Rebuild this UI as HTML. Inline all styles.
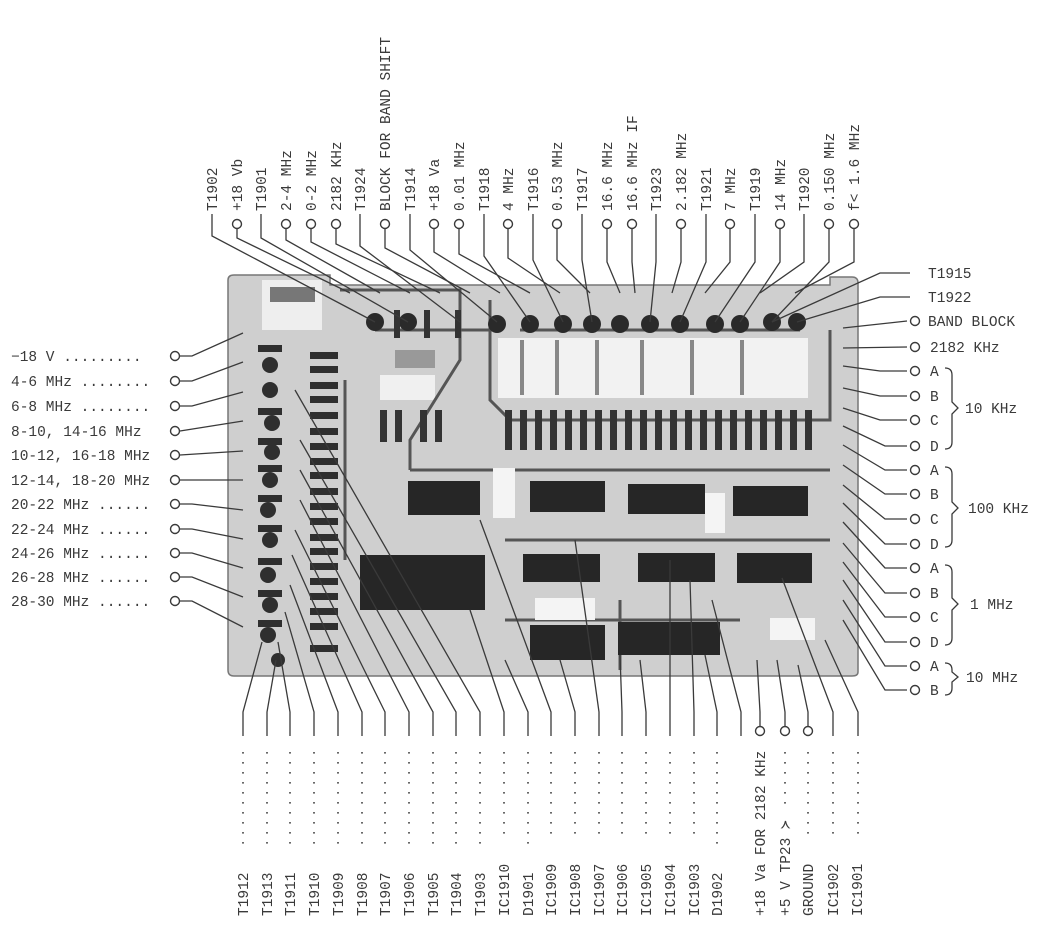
<!DOCTYPE html>
<html><head><meta charset="utf-8"><style>
html,body{margin:0;padding:0;background:#fff;}
svg{display:block;}
text{font-family:"Liberation Mono",monospace;font-size:14.5px;fill:#3a3a3a;}
</style></head><body>
<svg width="1037" height="931" viewBox="0 0 1037 931" xmlns="http://www.w3.org/2000/svg">
<g>
<path d="M228,280 Q228,275 234,275 L330,275 L330,285 L830,285 L830,277 L852,277 Q858,277 858,283 L858,672 Q858,676 852,676 L234,676 Q228,676 228,670 Z" fill="#cfcfcf" stroke="#777" stroke-width="1.5"/>
<rect x="262" y="280" width="60" height="50" fill="#eee"/>
<rect x="270" y="287" width="45" height="15" fill="#777"/>
<rect x="498" y="338" width="310" height="60" fill="#f2f2f2"/>
<g fill="#888"><rect x="520" y="340" width="4" height="55"/><rect x="555" y="340" width="4" height="55"/><rect x="595" y="340" width="4" height="55"/><rect x="640" y="340" width="4" height="55"/><rect x="690" y="340" width="4" height="55"/><rect x="740" y="340" width="4" height="55"/></g>
<rect x="380" y="375" width="55" height="25" fill="#f0f0f0"/>
<rect x="395" y="350" width="40" height="18" fill="#999"/>
<g stroke="#555" stroke-width="3" fill="none">
<path d="M490,300 L490,400 L510,420 L830,420 L830,330"/>
<path d="M410,470 L830,470"/>
<path d="M340,290 L460,290 L460,360 L410,440 L410,470"/>
<path d="M505,540 L830,540"/>
<path d="M505,620 L740,620"/>
<path d="M620,600 L620,670"/>
<path d="M345,380 L345,560"/>
<path d="M375,330 L500,330"/>
<path d="M520,330 L800,330"/>
</g>
<g fill="#2a2a2a">
<circle cx="375" cy="322" r="9"/><circle cx="408" cy="322" r="9"/><circle cx="497" cy="324" r="9"/><circle cx="530" cy="324" r="9"/><circle cx="563" cy="324" r="9"/><circle cx="592" cy="324" r="9"/><circle cx="620" cy="324" r="9"/><circle cx="650" cy="324" r="9"/><circle cx="680" cy="324" r="9"/><circle cx="715" cy="324" r="9"/><circle cx="740" cy="324" r="9"/><circle cx="772" cy="322" r="9"/><circle cx="797" cy="322" r="9"/>
</g>
<g fill="#333">
<rect x="505" y="410" width="7" height="40"/><rect x="520" y="410" width="7" height="40"/><rect x="535" y="410" width="7" height="40"/><rect x="550" y="410" width="7" height="40"/><rect x="565" y="410" width="7" height="40"/><rect x="580" y="410" width="7" height="40"/><rect x="595" y="410" width="7" height="40"/><rect x="610" y="410" width="7" height="40"/><rect x="625" y="410" width="7" height="40"/><rect x="640" y="410" width="7" height="40"/><rect x="655" y="410" width="7" height="40"/><rect x="670" y="410" width="7" height="40"/><rect x="685" y="410" width="7" height="40"/><rect x="700" y="410" width="7" height="40"/><rect x="715" y="410" width="7" height="40"/><rect x="730" y="410" width="7" height="40"/><rect x="745" y="410" width="7" height="40"/><rect x="760" y="410" width="7" height="40"/><rect x="775" y="410" width="7" height="40"/><rect x="790" y="410" width="7" height="40"/><rect x="805" y="410" width="7" height="40"/>
<rect x="380" y="410" width="7" height="32"/><rect x="395" y="410" width="7" height="32"/><rect x="420" y="410" width="7" height="32"/><rect x="435" y="410" width="7" height="32"/>
<rect x="394" y="310" width="6" height="28"/><rect x="424" y="310" width="6" height="28"/><rect x="455" y="310" width="6" height="28"/>
</g>
<g fill="#2f2f2f">
<circle cx="270" cy="365" r="8"/><circle cx="270" cy="390" r="8"/><circle cx="272" cy="423" r="8"/><circle cx="272" cy="452" r="8"/><circle cx="270" cy="480" r="8"/><circle cx="268" cy="510" r="8"/><circle cx="270" cy="540" r="8"/><circle cx="268" cy="575" r="8"/><circle cx="270" cy="605" r="8"/><circle cx="268" cy="635" r="8"/><circle cx="278" cy="660" r="7"/>
<rect x="258" y="345" width="24" height="7"/><rect x="258" y="408" width="24" height="7"/><rect x="258" y="438" width="24" height="7"/><rect x="258" y="465" width="24" height="7"/><rect x="258" y="495" width="24" height="7"/><rect x="258" y="525" width="24" height="7"/><rect x="258" y="558" width="24" height="7"/><rect x="258" y="590" width="24" height="7"/><rect x="258" y="620" width="24" height="7"/>
<rect x="310" y="352" width="28" height="7"/><rect x="310" y="366" width="28" height="7"/><rect x="310" y="382" width="28" height="7"/><rect x="310" y="396" width="28" height="7"/><rect x="310" y="412" width="28" height="7"/><rect x="310" y="428" width="28" height="7"/><rect x="310" y="443" width="28" height="7"/><rect x="310" y="458" width="28" height="7"/><rect x="310" y="472" width="28" height="7"/><rect x="310" y="488" width="28" height="7"/><rect x="310" y="503" width="28" height="7"/><rect x="310" y="518" width="28" height="7"/><rect x="310" y="534" width="28" height="7"/><rect x="310" y="548" width="28" height="7"/><rect x="310" y="563" width="28" height="7"/><rect x="310" y="578" width="28" height="7"/><rect x="310" y="593" width="28" height="7"/><rect x="310" y="608" width="28" height="7"/><rect x="310" y="623" width="28" height="7"/><rect x="310" y="645" width="28" height="7"/>
</g>
<g fill="#262626">
<rect x="408" y="481" width="72" height="34"/><rect x="530" y="481" width="75" height="31"/><rect x="628" y="484" width="77" height="30"/><rect x="733" y="486" width="75" height="30"/>
<rect x="523" y="554" width="77" height="28"/><rect x="638" y="553" width="77" height="29"/><rect x="737" y="553" width="75" height="30"/>
<rect x="360" y="555" width="125" height="55"/>
<rect x="530" y="625" width="75" height="35"/><rect x="618" y="622" width="102" height="33"/>
</g>
<g fill="#f4f4f4"><rect x="493" y="468" width="22" height="50"/><rect x="705" y="493" width="20" height="40"/><rect x="535" y="598" width="60" height="22"/><rect x="770" y="618" width="45" height="22"/></g>
</g>
<g stroke="#3a3a3a" stroke-width="1.3" fill="none">
<path d="M212,214 L212,236 L375,322"/>
<path d="M237,229 L237,238 L350,293"/>
<path d="M261,214 L261,238 L408,322"/>
<path d="M286,229 L286,240 L380,293"/>
<path d="M311,229 L311,242 L410,293"/>
<path d="M336,229 L336,244 L440,293"/>
<path d="M360,214 L360,246 L460,322"/>
<path d="M385,229 L385,248 L470,293"/>
<path d="M410,214 L410,250 L497,322"/>
<path d="M434,229 L434,252 L500,293"/>
<path d="M459,229 L459,254 L530,293"/>
<path d="M484,214 L484,256 L530,322"/>
<path d="M508,229 L508,258 L560,293"/>
<path d="M533,214 L533,260 L563,322"/>
<path d="M557,229 L557,260 L590,293"/>
<path d="M582,214 L582,260 L592,322"/>
<path d="M607,229 L607,262 L620,293"/>
<path d="M632,229 L632,262 L635,293"/>
<path d="M656,214 L656,262 L650,322"/>
<path d="M681,229 L681,262 L672,293"/>
<path d="M706,214 L706,262 L680,322"/>
<path d="M730,229 L730,262 L705,293"/>
<path d="M755,214 L755,262 L715,322"/>
<path d="M780,229 L780,262 L740,322"/>
<path d="M804,214 L804,262 L760,293"/>
<path d="M829,229 L829,262 L772,322"/>
<path d="M854,229 L854,262 L795,293"/>
<path d="M910,273 L880,273 L772,322"/>
<path d="M910,297 L880,297 L797,322"/>
<path d="M907,321 L843,328"/><path d="M907,347 L843,348"/>
<path d="M907,371 L880,371 L843,366"/><path d="M907,396 L880,396 L843,388"/>
<path d="M907,420 L880,420 L843,408"/><path d="M907,446 L885,446 L843,426"/>
<path d="M907,470 L885,470 L843,445"/><path d="M907,494 L885,494 L843,465"/>
<path d="M907,519 L885,519 L843,485"/><path d="M907,544 L885,544 L843,503"/>
<path d="M907,568 L885,568 L843,522"/><path d="M907,593 L885,593 L843,543"/>
<path d="M907,617 L885,617 L843,562"/><path d="M907,642 L885,642 L843,580"/>
<path d="M907,666 L885,666 L843,600"/><path d="M907,690 L885,690 L843,620"/>
<path d="M180,356 L192,356 L243,333"/><path d="M180,381 L192,381 L243,362"/>
<path d="M180,406 L192,406 L243,392"/><path d="M180,431 L243,421"/>
<path d="M180,455 L243,451"/><path d="M180,480 L243,480"/>
<path d="M180,504 L192,504 L243,510"/><path d="M180,529 L192,529 L243,539"/>
<path d="M180,553 L192,553 L243,568"/><path d="M180,577 L192,577 L243,597"/>
<path d="M180,601 L192,601 L243,627"/>
<path d="M243,736 L243,712 L262,642"/><path d="M267,736 L267,712 L276,660"/>
<path d="M290,736 L290,712 L278,642"/><path d="M314,736 L314,712 L285,612"/>
<path d="M338,736 L338,712 L290,585"/><path d="M362,736 L362,712 L292,555"/>
<path d="M385,736 L385,712 L295,530"/><path d="M409,736 L409,712 L300,500"/>
<path d="M433,736 L433,712 L300,470"/><path d="M456,736 L456,712 L300,440"/>
<path d="M480,736 L480,712 L295,390"/><path d="M504,736 L504,712 L470,610"/>
<path d="M528,736 L528,712 L505,660"/><path d="M551,736 L551,712 L480,520"/>
<path d="M575,736 L575,712 L560,660"/><path d="M599,736 L599,712 L575,540"/>
<path d="M622,736 L622,712 L620,655"/><path d="M646,736 L646,712 L640,660"/>
<path d="M670,736 L670,712 L670,560"/><path d="M694,736 L694,712 L690,580"/>
<path d="M717,736 L717,712 L705,655"/><path d="M741,736 L741,712 L712,600"/>
<path d="M760,726 L760,712 L757,660"/><path d="M785,726 L785,712 L777,660"/>
<path d="M808,726 L808,712 L798,665"/>
<path d="M833,736 L833,712 L782,578"/><path d="M858,736 L858,712 L825,640"/>
<path d="M945,368 Q952,368 952,375 L952,402 L958,408 L952,414 L952,442 Q952,449 945,449"/>
<path d="M945,467 Q952,467 952,474 L952,502 L958,508 L952,514 L952,540 Q952,547 945,547"/>
<path d="M945,565 Q952,565 952,572 L952,598 L958,604 L952,610 L952,638 Q952,645 945,645"/>
<path d="M945,663 Q952,663 952,670 L952,672 L958,677 L952,682 L952,688 Q952,695 945,695"/>
</g>
<!-- bottom dotted leaders -->
<g stroke="#444" stroke-width="1.6" stroke-dasharray="1.6 8.4" fill="none">
<path d="M243,752 V852"/><path d="M267,752 V852"/><path d="M290,752 V852"/><path d="M314,752 V852"/><path d="M338,752 V852"/><path d="M362,752 V852"/><path d="M385,752 V852"/><path d="M409,752 V852"/><path d="M433,752 V852"/><path d="M456,752 V852"/><path d="M480,752 V852"/>
<path d="M504,752 V842"/><path d="M528,752 V852"/><path d="M551,752 V842"/><path d="M575,752 V842"/><path d="M599,752 V842"/><path d="M622,752 V842"/><path d="M646,752 V842"/><path d="M670,752 V842"/><path d="M694,752 V842"/><path d="M717,752 V852"/>
<path d="M785,752 V808"/><path d="M808,752 V842"/><path d="M833,752 V842"/><path d="M858,752 V842"/>
</g>
<g fill="#fff" stroke="#3a3a3a" stroke-width="1.4">
<circle cx="237" cy="224" r="4.5"/><circle cx="286" cy="224" r="4.5"/><circle cx="311" cy="224" r="4.5"/><circle cx="336" cy="224" r="4.5"/><circle cx="385" cy="224" r="4.5"/><circle cx="434" cy="224" r="4.5"/><circle cx="459" cy="224" r="4.5"/><circle cx="508" cy="224" r="4.5"/><circle cx="557" cy="224" r="4.5"/><circle cx="607" cy="224" r="4.5"/><circle cx="632" cy="224" r="4.5"/><circle cx="681" cy="224" r="4.5"/><circle cx="730" cy="224" r="4.5"/><circle cx="780" cy="224" r="4.5"/><circle cx="829" cy="224" r="4.5"/><circle cx="854" cy="224" r="4.5"/>
<circle cx="915" cy="321" r="4.5"/><circle cx="915" cy="347" r="4.5"/><circle cx="915" cy="371" r="4.5"/><circle cx="915" cy="396" r="4.5"/><circle cx="915" cy="420" r="4.5"/><circle cx="915" cy="446" r="4.5"/><circle cx="915" cy="470" r="4.5"/><circle cx="915" cy="494" r="4.5"/><circle cx="915" cy="519" r="4.5"/><circle cx="915" cy="544" r="4.5"/><circle cx="915" cy="568" r="4.5"/><circle cx="915" cy="593" r="4.5"/><circle cx="915" cy="617" r="4.5"/><circle cx="915" cy="642" r="4.5"/><circle cx="915" cy="666" r="4.5"/><circle cx="915" cy="690" r="4.5"/>
<circle cx="175" cy="356" r="4.5"/><circle cx="175" cy="381" r="4.5"/><circle cx="175" cy="406" r="4.5"/><circle cx="175" cy="431" r="4.5"/><circle cx="175" cy="455" r="4.5"/><circle cx="175" cy="480" r="4.5"/><circle cx="175" cy="504" r="4.5"/><circle cx="175" cy="529" r="4.5"/><circle cx="175" cy="553" r="4.5"/><circle cx="175" cy="577" r="4.5"/><circle cx="175" cy="601" r="4.5"/>
<circle cx="760" cy="731" r="4.5"/><circle cx="785" cy="731" r="4.5"/><circle cx="808" cy="731" r="4.5"/>
</g>
<g>
<text transform="translate(217,211) rotate(-90)">T1902</text>
<text transform="translate(242,211) rotate(-90)">+18 Vb</text>
<text transform="translate(266,211) rotate(-90)">T1901</text>
<text transform="translate(291,211) rotate(-90)">2-4 MHz</text>
<text transform="translate(316,211) rotate(-90)">0-2 MHz</text>
<text transform="translate(341,211) rotate(-90)">2182 KHz</text>
<text transform="translate(365,211) rotate(-90)">T1924</text>
<text transform="translate(390,211) rotate(-90)">BLOCK FOR BAND SHIFT</text>
<text transform="translate(415,211) rotate(-90)">T1914</text>
<text transform="translate(439,211) rotate(-90)">+18 Va</text>
<text transform="translate(464,211) rotate(-90)">0.01 MHz</text>
<text transform="translate(489,211) rotate(-90)">T1918</text>
<text transform="translate(513,211) rotate(-90)">4 MHz</text>
<text transform="translate(538,211) rotate(-90)">T1916</text>
<text transform="translate(562,211) rotate(-90)">0.53 MHz</text>
<text transform="translate(587,211) rotate(-90)">T1917</text>
<text transform="translate(612,211) rotate(-90)">16.6 MHz</text>
<text transform="translate(637,211) rotate(-90)">16.6 MHz IF</text>
<text transform="translate(661,211) rotate(-90)">T1923</text>
<text transform="translate(686,211) rotate(-90)">2.182 MHz</text>
<text transform="translate(711,211) rotate(-90)">T1921</text>
<text transform="translate(735,211) rotate(-90)">7 MHz</text>
<text transform="translate(760,211) rotate(-90)">T1919</text>
<text transform="translate(785,211) rotate(-90)">14 MHz</text>
<text transform="translate(809,211) rotate(-90)">T1920</text>
<text transform="translate(834,211) rotate(-90)">0.150 MHz</text>
<text transform="translate(859,211) rotate(-90)">f&lt; 1.6 MHz</text>
</g>
<g>
<text transform="translate(248,916) rotate(-90)">T1912</text>
<text transform="translate(272,916) rotate(-90)">T1913</text>
<text transform="translate(295,916) rotate(-90)">T1911</text>
<text transform="translate(319,916) rotate(-90)">T1910</text>
<text transform="translate(343,916) rotate(-90)">T1909</text>
<text transform="translate(367,916) rotate(-90)">T1908</text>
<text transform="translate(390,916) rotate(-90)">T1907</text>
<text transform="translate(414,916) rotate(-90)">T1906</text>
<text transform="translate(438,916) rotate(-90)">T1905</text>
<text transform="translate(461,916) rotate(-90)">T1904</text>
<text transform="translate(485,916) rotate(-90)">T1903</text>
<text transform="translate(509,916) rotate(-90)">IC1910</text>
<text transform="translate(533,916) rotate(-90)">D1901</text>
<text transform="translate(556,916) rotate(-90)">IC1909</text>
<text transform="translate(580,916) rotate(-90)">IC1908</text>
<text transform="translate(604,916) rotate(-90)">IC1907</text>
<text transform="translate(627,916) rotate(-90)">IC1906</text>
<text transform="translate(651,916) rotate(-90)">IC1905</text>
<text transform="translate(675,916) rotate(-90)">IC1904</text>
<text transform="translate(699,916) rotate(-90)">IC1903</text>
<text transform="translate(722,916) rotate(-90)">D1902</text>
<text transform="translate(765,916) rotate(-90)">+18 Va FOR 2182 KHz</text>
<text transform="translate(790,916) rotate(-90)">+5 V TP23 ≻</text>
<text transform="translate(813,916) rotate(-90)">GROUND</text>
<text transform="translate(838,916) rotate(-90)">IC1902</text>
<text transform="translate(862,916) rotate(-90)">IC1901</text>
</g>
<g>
<text x="11" y="361">−18 V  .........</text>
<text x="11" y="386">4-6 MHz  ........</text>
<text x="11" y="411">6-8 MHz  ........</text>
<text x="11" y="436">8-10,  14-16 MHz</text>
<text x="11" y="460">10-12, 16-18 MHz</text>
<text x="11" y="485">12-14, 18-20 MHz</text>
<text x="11" y="509">20-22 MHz  ......</text>
<text x="11" y="534">22-24 MHz  ......</text>
<text x="11" y="558">24-26 MHz  ......</text>
<text x="11" y="582">26-28 MHz  ......</text>
<text x="11" y="606">28-30 MHz  ......</text>
</g>
<g>
<text x="928" y="278">T1915</text>
<text x="928" y="302">T1922</text>
<text x="928" y="326">BAND BLOCK</text>
<text x="930" y="352">2182 KHz</text>
<text x="930" y="376">A</text><text x="930" y="401">B</text><text x="930" y="425">C</text><text x="930" y="451">D</text>
<text x="930" y="475">A</text><text x="930" y="499">B</text><text x="930" y="524">C</text><text x="930" y="549">D</text>
<text x="930" y="573">A</text><text x="930" y="598">B</text><text x="930" y="622">C</text><text x="930" y="647">D</text>
<text x="930" y="671">A</text><text x="930" y="695">B</text>
<text x="965" y="413">10 KHz</text>
<text x="968" y="513">100 KHz</text>
<text x="970" y="609">1 MHz</text>
<text x="966" y="682">10 MHz</text>
</g>
</svg>
</body></html>
